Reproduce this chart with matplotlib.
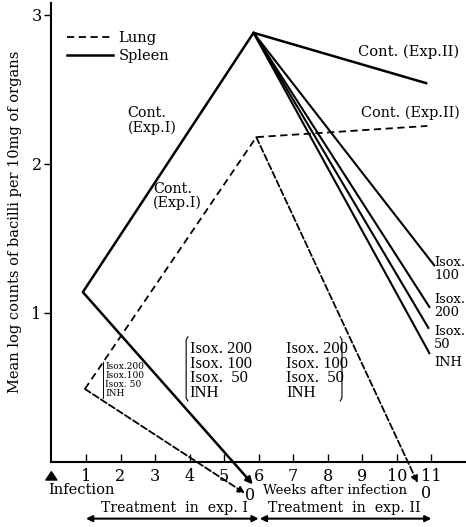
import matplotlib
matplotlib.use("Agg")
import matplotlib.pyplot as plt
from matplotlib.lines import Line2D

plt.rcParams['font.family'] = ['DejaVu Serif', 'DejaVu Sans']

# ---- data (weeks after infection, mean log counts) ----
spleen_cont_weeks = [0.91, 5.85, 10.88]
spleen_cont_vals = [1.14, 2.88, 2.54]
lung_cont_weeks = [0.97, 5.93, 10.88]
lung_cont_vals = [0.49, 2.18, 2.255]

# Exp I treatment (start -> "0", below detection)
spleen_exp1_weeks = [0.91, 5.83]
spleen_exp1_vals = [1.14, -0.15]
lung_exp1_weeks = [0.97, 5.6]
lung_exp1_vals = [0.49, -0.21]

# Exp II treatment
spleen_exp2_start = (5.85, 2.88)
spleen_exp2_labels = ["Isox.\n100", "Isox.\n200", "Isox.\n50", "INH"]
spleen_exp2_end_weeks = [11.08, 10.94, 10.91, 10.94]
spleen_exp2_end_vals = [1.32, 1.04, 0.90, 0.73]
lung_exp2_weeks = [5.93, 10.6]
lung_exp2_vals = [2.18, -0.14]

treat_groups = ["Isox. 200", "Isox. 100", "Isox.  50", "INH"]

xticks = list(range(1, 12))
yticks = [1, 2, 3]

# layout only: label offsets (data units) for the exp II labels
exp2_label_offsets = [-0.025, 0.007, -0.07, -0.06]

fig = plt.figure(figsize=(4.66, 5.27), dpi=100)
ax = fig.add_axes([51.4 / 466, 65 / 527, (466 - 51.4) / 466, (462 - 3) / 527])
ax.set_xlim(0, 12)
ax.set_ylim(0, 3.08)
for s in ['top', 'right']:
    ax.spines[s].set_visible(False)
for s in ['left', 'bottom']:
    ax.spines[s].set_linewidth(1.5)

ax.set_xticks(xticks)
ax.set_yticks(yticks)
ax.tick_params(axis='x', direction='in', length=6, width=1, pad=4, labelsize=11.5)
ax.tick_params(axis='y', direction='out', length=5, width=1, pad=2, labelsize=11.5)

LW = 1.8
dash = (0, (4, 2.5))

# control curves
ax.plot(spleen_cont_weeks, spleen_cont_vals, color='black', lw=LW, solid_capstyle='butt')
ax.plot(lung_cont_weeks, lung_cont_vals, color='black', lw=1.3, linestyle=dash)

# exp II spleen treatments
for xe, ye in zip(spleen_exp2_end_weeks, spleen_exp2_end_vals):
    ax.plot([spleen_exp2_start[0], xe], [spleen_exp2_start[1], ye], color='black', lw=1.5)

# arrows to "0"
def arrow(xs, ys, ls, lw):
    ax.annotate('', xy=(xs[1], ys[1]), xytext=(xs[0], ys[0]),
                arrowprops=dict(arrowstyle='-|>', color='black', lw=lw, linestyle=ls,
                                mutation_scale=10, shrinkA=0, shrinkB=0),
                annotation_clip=False)

arrow(spleen_exp1_weeks, spleen_exp1_vals, '-', LW)
arrow(lung_exp1_weeks, lung_exp1_vals, '--', 1.3)
arrow(lung_exp2_weeks, lung_exp2_vals, '--', 1.3)

fs = 10.3
# labels of curves
ax.text(2.2, 2.29, "Cont.\n(Exp.I)", fontsize=fs, ha='left', va='center', linespacing=1.1)
ax.text(2.95, 1.785, "Cont.\n(Exp.I)", fontsize=fs, ha='left', va='center', linespacing=0.95)
ax.text(8.86, 2.75, "Cont. (Exp.II)", fontsize=10.6, ha='left', va='center')
ax.text(8.97, 2.34, "Cont. (Exp.II)", fontsize=10.4, ha='left', va='center')
for lab, ye, off in zip(spleen_exp2_labels, spleen_exp2_end_vals, exp2_label_offsets):
    ax.text(11.08, ye + off, lab, fontsize=9.4, ha='left', va='center', linespacing=1.0)

# bracket groups
small = [t.replace(". 2", ".2").replace(". 1", ".1").replace(".  5", ". 5") for t in treat_groups]
ax.text(1.56, 0.55, "\n".join(small), fontsize=6.5, ha='left', va='center',
        linespacing=1.0)
ax.plot([1.5, 1.5], [0.43, 0.67], color='black', lw=0.7)

ax.text(4.0, 0.61, "\n".join(treat_groups), fontsize=12, ha='left', va='center',
        linespacing=0.9, family='Liberation Serif')
ax.plot([3.95, 3.9, 3.9, 3.95], [0.84, 0.82, 0.43, 0.41], color='black', lw=0.8)

ax.text(6.8, 0.61, "\n".join(treat_groups), fontsize=12, ha='left', va='center',
        linespacing=0.9, family='Liberation Serif')
ax.plot([8.36, 8.41, 8.41, 8.36], [0.84, 0.82, 0.43, 0.41], color='black', lw=0.8)

# bottom annotations
ax.text(5.74, -0.225, "0", fontsize=11.5, ha='center', va='center')
ax.text(10.85, -0.21, "0", fontsize=11.5, ha='center', va='center')
ax.text(8.2, -0.19, "Weeks after infection", fontsize=9.6, ha='center', va='center')
ax.text(-0.1, -0.19, "Infection", fontsize=10.5, ha='left', va='center')
ax.annotate('', xy=(0.0, -0.065), xytext=(0.0, -0.115),
            arrowprops=dict(arrowstyle='simple,head_width=0.8,head_length=0.6,tail_width=0.35',
                            color='black', shrinkA=0, shrinkB=0, mutation_scale=10),
            annotation_clip=False)
ax.text(3.55, -0.31, "Treatment  in  exp. I", fontsize=10.2, ha='center', va='center')
ax.text(8.48, -0.31, "Treatment  in  exp. II", fontsize=10.2, ha='center', va='center')
for x0, x1 in [(1, 6), (6.03, 11)]:
    ax.annotate('', xy=(x1, -0.38), xytext=(x0, -0.38),
                arrowprops=dict(arrowstyle='<|-|>', color='black', lw=1.5,
                                mutation_scale=9, shrinkA=0, shrinkB=0),
                annotation_clip=False)

# legend
handles = [Line2D([], [], color='black', lw=1.3, linestyle=dash),
           Line2D([], [], color='black', lw=LW)]
ax.legend(handles, ["Lung", "Spleen"], loc='upper left', bbox_to_anchor=(0.037, 0.938),
          frameon=False, fontsize=10.5, handlelength=3.2, handletextpad=0.35,
          borderpad=0, labelspacing=0.25, borderaxespad=0)

fig.text(15 / 466, 1 - 222 / 527, "Mean log counts of bacilli per 10mg of organs",
         rotation=90, ha='center', va='center', fontsize=10.5)

fig.savefig("out.png", dpi=100)
